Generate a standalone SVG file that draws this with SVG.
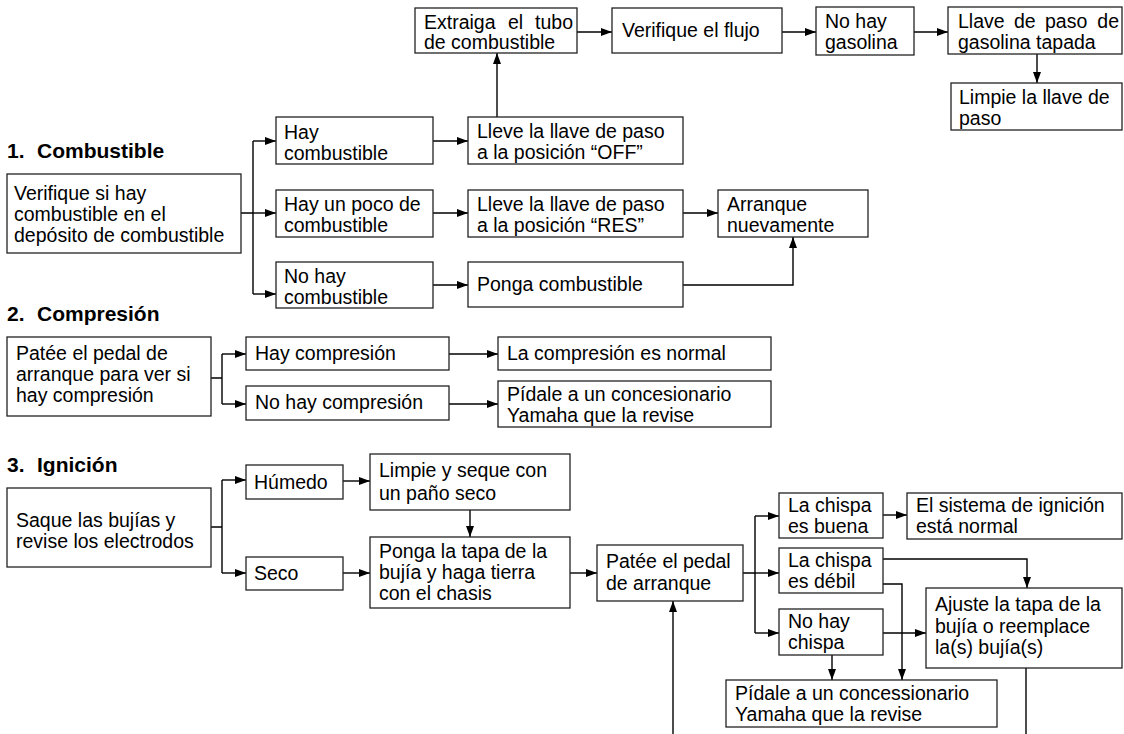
<svg xmlns="http://www.w3.org/2000/svg" width="1124" height="734" viewBox="0 0 1124 734">
<defs>
<marker id="ah" markerUnits="userSpaceOnUse" markerWidth="11" markerHeight="8" refX="11" refY="4" orient="auto">
<path d="M0,0 L11,4 L0,8 z" fill="#000"/>
</marker>
<style>
rect{fill:#fff;stroke:#222;stroke-width:1.3}
text{font-family:"Liberation Sans",Arial,sans-serif;font-size:19.5px;fill:#000}
.h{font-weight:bold;font-size:21px}
.e{text-anchor:end}
.c path{fill:none;stroke:#000;stroke-width:1.4}
.a{marker-end:url(#ah)}
</style>
</defs>
<rect x="0" y="0" width="1124" height="734" style="fill:#fff;stroke:none"/>

<g id="headings">
<text class="h" x="7" y="158">1.</text><text class="h" x="37" y="158">Combustible</text>
<text class="h" x="7" y="321">2.</text><text class="h" x="37" y="321">Compresión</text>
<text class="h" x="7" y="472">3.</text><text class="h" x="37" y="472">Ignición</text>
</g>

<g class="c" id="connectors">
<path d="M241,213 H253 M253,141 V294"/>
<path class="a" d="M253,141 H276"/>
<path class="a" d="M253,213 H276"/>
<path class="a" d="M253,294 H276"/>
<path class="a" d="M433,141 H468"/>
<path class="a" d="M433,213 H468"/>
<path class="a" d="M433,285 H468"/>
<path class="a" d="M497,117 V53"/>
<path class="a" d="M577,32 H612"/>
<path class="a" d="M782,32 H816"/>
<path class="a" d="M914,32 H948"/>
<path class="a" d="M1037,54 V83"/>
<path class="a" d="M683,213 H718"/>
<path class="a" d="M683,285 H793 V237"/>

<path d="M211,378 H222 M222,354 V404"/>
<path class="a" d="M222,354 H246"/>
<path class="a" d="M222,404 H246"/>
<path class="a" d="M449,354 H498"/>
<path class="a" d="M449,404 H498"/>

<path d="M211,527 H222 M222,480 V573"/>
<path class="a" d="M222,480 H246"/>
<path class="a" d="M222,573 H246"/>
<path class="a" d="M343,481 H370"/>
<path class="a" d="M343,573 H370"/>
<path class="a" d="M470,510 V537"/>
<path class="a" d="M570,573 H597"/>
<path class="a" d="M673,734 V601"/>
<path d="M743,573 H755 M755,516 V633"/>
<path class="a" d="M755,516 H779"/>
<path class="a" d="M755,573 H779"/>
<path class="a" d="M755,633 H779"/>
<path class="a" d="M883,515 H907"/>
<path class="a" d="M883,559 H1027 V588"/>
<path class="a" d="M883,584 H902 V680"/>
<path class="a" d="M883,633 H926"/>
<path class="a" d="M832,655 V680"/>
<path d="M1026,668 V734"/>
</g>

<g id="n_verif"><rect x="7" y="174" width="234" height="79"/>
<text x="14" y="200">Verifique si hay</text><text x="14" y="221">combustible en el</text><text x="14" y="242">depósito de combustible</text></g>
<g id="n_hay"><rect x="276" y="117" width="157" height="47"/>
<text x="284" y="139">Hay</text><text x="284" y="160">combustible</text></g>
<g id="n_poco"><rect x="276" y="190" width="157" height="47"/>
<text x="284" y="211">Hay un poco de</text><text x="284" y="232">combustible</text></g>
<g id="n_nohay"><rect x="276" y="262" width="157" height="46"/>
<text x="284" y="283">No hay</text><text x="284" y="304">combustible</text></g>
<g id="n_off"><rect x="468" y="117" width="215" height="47"/>
<text x="477" y="138">Lleve la llave de paso</text><text x="477" y="159">a la posición “OFF”</text></g>
<g id="n_res"><rect x="468" y="190" width="215" height="47"/>
<text x="477" y="211">Lleve la llave de paso</text><text x="477" y="232">a la posición “RES”</text></g>
<g id="n_ponga"><rect x="468" y="262" width="215" height="45"/>
<text x="477" y="291">Ponga combustible</text></g>
<g id="n_arr"><rect x="718" y="190" width="150" height="47"/>
<text x="727" y="211">Arranque</text><text x="727" y="232">nuevamente</text></g>
<g id="n_extr"><rect x="415" y="8" width="162" height="45"/>
<text x="424" y="29">Extraiga</text><text x="508" y="29">el</text><text class="e" x="573" y="29">tubo</text><text x="424" y="49">de combustible</text></g>
<g id="n_flujo"><rect x="612" y="8" width="170" height="45"/>
<text x="622" y="37">Verifique el flujo</text></g>
<g id="n_nogas"><rect x="816" y="7" width="98" height="48"/>
<text x="825" y="28">No hay</text><text x="825" y="49">gasolina</text></g>
<g id="n_llave"><rect x="948" y="7" width="174" height="47"/>
<text x="958" y="28">Llave</text><text x="1014" y="28">de</text><text x="1045" y="28">paso</text><text class="e" x="1119" y="28">de</text><text x="958" y="49">gasolina tapada</text></g>
<g id="n_limp"><rect x="951" y="83" width="171" height="47"/>
<text x="959" y="104">Limpie la llave de</text><text x="959" y="125">paso</text></g>

<g id="n_pat"><rect x="7" y="337" width="204" height="79"/>
<text x="16" y="360">Patée el pedal de</text><text x="16" y="381">arranque para ver si</text><text x="16" y="402">hay compresión</text></g>
<g id="n_hc"><rect x="246" y="337" width="203" height="33"/>
<text x="255" y="360">Hay compresión</text></g>
<g id="n_nhc"><rect x="246" y="386" width="203" height="34"/>
<text x="255" y="409">No hay compresión</text></g>
<g id="n_norm"><rect x="498" y="337" width="273" height="33"/>
<text x="507" y="360">La compresión es normal</text></g>
<g id="n_ped"><rect x="498" y="381" width="273" height="46"/>
<text x="507" y="401">Pídale a un concesionario</text><text x="507" y="422">Yamaha que la revise</text></g>

<g id="n_saque"><rect x="7" y="488" width="204" height="79"/>
<text x="16" y="527">Saque las bujías y</text><text x="16" y="548">revise los electrodos</text></g>
<g id="n_hum"><rect x="246" y="465" width="97" height="34"/>
<text x="254" y="489">Húmedo</text></g>
<g id="n_seco"><rect x="246" y="557" width="97" height="33"/>
<text x="254" y="580">Seco</text></g>
<g id="n_limpie"><rect x="370" y="454" width="200" height="56"/>
<text x="379" y="477">Limpie y seque con</text><text x="379" y="500">un paño seco</text></g>
<g id="n_ptapa"><rect x="370" y="537" width="200" height="71"/>
<text x="379" y="558">Ponga la tapa de la</text><text x="379" y="579">bujía y haga tierra</text><text x="379" y="600">con el chasis</text></g>
<g id="n_pedal"><rect x="597" y="545" width="146" height="56"/>
<text x="606" y="568">Patée el pedal</text><text x="606" y="590">de arranque</text></g>
<g id="n_buena"><rect x="779" y="493" width="104" height="45"/>
<text x="788" y="512">La chispa</text><text x="788" y="533">es buena</text></g>
<g id="n_sist"><rect x="907" y="493" width="215" height="46"/>
<text x="916" y="512">El sistema de ignición</text><text x="916" y="533">está normal</text></g>
<g id="n_debil"><rect x="779" y="548" width="104" height="45"/>
<text x="788" y="567">La chispa</text><text x="788" y="588">es débil</text></g>
<g id="n_nochispa"><rect x="779" y="609" width="104" height="46"/>
<text x="788" y="628">No hay</text><text x="788" y="649">chispa</text></g>
<g id="n_ajuste"><rect x="926" y="588" width="196" height="80"/>
<text x="935" y="611">Ajuste la tapa de la</text><text x="935" y="633">bujía o reemplace</text><text x="935" y="654">la(s) bujía(s)</text></g>
<g id="n_pidale"><rect x="726" y="680" width="271" height="47"/>
<text x="735" y="700">Pídale a un concessionario</text><text x="735" y="721">Yamaha que la revise</text></g>
</svg>
